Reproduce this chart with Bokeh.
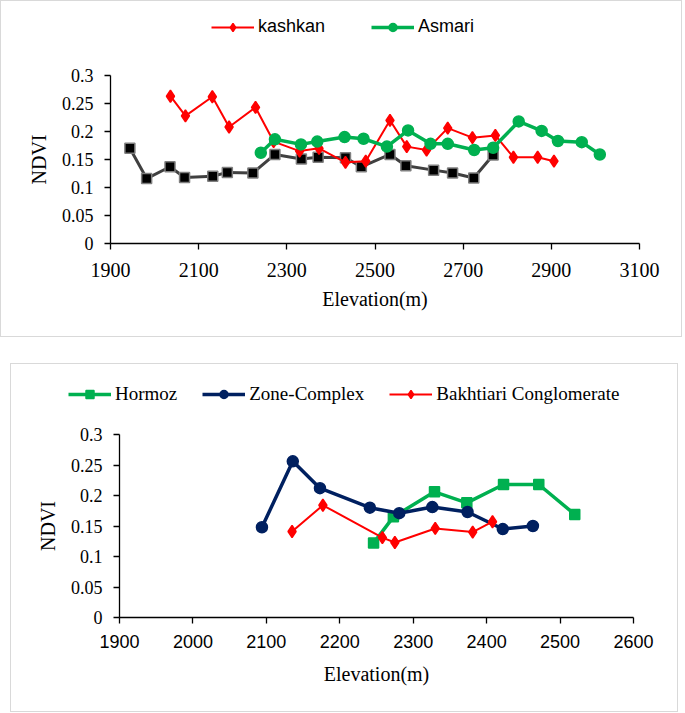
from bokeh.plotting import figure
from bokeh.models import Legend, LegendItem, FixedTicker, Range1d, Spacer
from bokeh.layouts import column, row
from bokeh.embed import file_html
from bokeh.resources import INLINE

# ---------------- Top panel data ----------------
kashkan_elev = [2036, 2070, 2131, 2169, 2229, 2270, 2329, 2373, 2433, 2479,
                2534, 2572, 2617, 2665, 2721, 2773, 2814, 2869, 2906]
kashkan_ndvi = [0.263, 0.228, 0.262, 0.208, 0.243, 0.182, 0.165, 0.170, 0.145, 0.147,
                0.220, 0.173, 0.167, 0.206, 0.189, 0.193, 0.154, 0.154, 0.147]
asmari_elev = [2241, 2273, 2332, 2369, 2431, 2474, 2527, 2575, 2626, 2665,
               2725, 2768, 2826, 2878, 2915, 2969, 3010]
asmari_ndvi = [0.162, 0.186, 0.177, 0.182, 0.190, 0.187, 0.173, 0.202, 0.178, 0.178,
               0.167, 0.171, 0.218, 0.201, 0.183, 0.181, 0.159]
black_elev = [1944, 1982, 2035, 2068, 2132, 2165, 2223, 2273, 2333, 2371,
              2433, 2469, 2534, 2570, 2633, 2676, 2724, 2768]
black_ndvi = [0.170, 0.116, 0.137, 0.118, 0.120, 0.127, 0.126, 0.159, 0.151, 0.154,
              0.153, 0.137, 0.159, 0.139, 0.131, 0.126, 0.117, 0.158]

top_x_ticks = [1900, 2100, 2300, 2500, 2700, 2900, 3100]
top_x_labels = ["1900", "2100", "2300", "2500", "2700", "2900", "3100"]

# ---------------- Bottom panel data ----------------
hormoz_elev = [2246, 2273, 2329, 2373, 2423, 2471, 2520]
hormoz_ndvi = [0.122, 0.165, 0.206, 0.188, 0.218, 0.218, 0.169]
zone_elev = [2094, 2136, 2173, 2241, 2281, 2326, 2374, 2422, 2463]
zone_ndvi = [0.148, 0.256, 0.212, 0.180, 0.171, 0.181, 0.173, 0.145, 0.150]
bakh_elev = [2135, 2177, 2258, 2275, 2330, 2381, 2408]
bakh_ndvi = [0.141, 0.184, 0.131, 0.123, 0.146, 0.140, 0.157]

bot_x_ticks = [1900, 2000, 2100, 2200, 2300, 2400, 2500, 2600]
bot_x_labels = ["1900", "2000", "2100", "2200", "2300", "2400", "2500", "2600"]

y_ticks = [0, 0.05, 0.1, 0.15, 0.2, 0.25, 0.3]
y_labels = ["0", "0.05", "0.1", "0.15", "0.2", "0.25", "0.3"]

SERIF = "Liberation Serif"
SANS = "Liberation Sans"
RED = "#FF0000"
GREEN = "#00B050"
NAVY = "#002060"
BORDER = {"border": "1px solid #d9d9d9"}
NAN = float("nan")

STYLES = {
    "black": dict(color="#404040", lw=3, marker="square", size=10, fill="black", edge="#7f7f7f"),
    "kashkan": dict(color=RED, lw=2, marker="diamond", size=12, fill=RED, edge=RED),
    "asmari": dict(color=GREEN, lw=3.5, marker="circle", size=11, fill=GREEN, edge=GREEN),
    "hormoz": dict(color=GREEN, lw=3.5, marker="square", size=10, fill=GREEN, edge=GREEN),
    "zone": dict(color=NAVY, lw=3.5, marker="circle", size=11, fill=NAVY, edge=NAVY),
    "bakh": dict(color=RED, lw=2, marker="diamond", size=12, fill=RED, edge=RED),
}


def make_fig(xr, width, fw, fh, bl, bt, bb, xticks, xlabels, xfont, xsize, xstand, tstand):
    p = figure(frame_width=fw, frame_height=fh,
               min_border_left=bl, min_border_right=width - bl - fw,
               min_border_top=bt, min_border_bottom=bb,
               x_range=Range1d(*xr), y_range=Range1d(0, 0.3),
               output_backend="svg", toolbar_location=None)
    p.grid.visible = False
    p.outline_line_color = None
    p.background_fill_color = "white"
    p.border_fill_color = "white"
    for ax in (p.xaxis[0], p.yaxis[0]):
        ax.axis_line_color = "black"
        ax.axis_line_width = 1.3
        ax.major_tick_line_color = "black"
        ax.major_tick_line_width = 1.3
        ax.major_tick_out = 6
        ax.major_tick_in = 0
        ax.minor_tick_line_color = None
        ax.axis_label_text_font = SERIF
        ax.axis_label_text_font_size = "20px"
        ax.axis_label_text_font_style = "normal"
        ax.axis_label_text_color = "black"
        ax.major_label_text_color = "black"
    xa = p.xaxis[0]
    xa.ticker = FixedTicker(ticks=xticks)
    xa.major_label_overrides = dict(zip(xticks, xlabels))
    xa.major_label_text_font = xfont
    xa.major_label_text_font_size = xsize
    xa.major_label_standoff = xstand
    xa.axis_label = "Elevation(m)"
    xa.axis_label_standoff = tstand
    ya = p.yaxis[0]
    ya.ticker = FixedTicker(ticks=y_ticks)
    ya.major_label_overrides = dict(zip(y_ticks, y_labels))
    ya.major_label_text_font = SERIF
    ya.major_label_text_font_size = "18px"
    ya.major_label_standoff = 11
    ya.axis_label = "NDVI"
    ya.axis_label_standoff = 9
    return p


def series(p, x, y, st):
    r1 = p.line(x, y, line_color=st["color"], line_width=st["lw"])
    r2 = p.scatter(x, y, marker=st["marker"], size=st["size"],
                   fill_color=st["fill"], line_color=st["edge"], line_width=1.5)
    return [r1, r2]


def legend_fig(width, height, entries, loc, font, size, spacing):
    lf = figure(width=width, height=height,
                min_border_left=0, min_border_right=0,
                min_border_top=0, min_border_bottom=0,
                x_range=Range1d(0, 1), y_range=Range1d(0, 1),
                x_axis_location=None, y_axis_location=None,
                output_backend="svg", toolbar_location=None)
    lf.grid.visible = False
    lf.outline_line_color = None
    items = []
    for label, key in entries:
        # legend sample only: a NaN point draws nothing in the plot area
        rs = series(lf, [NAN], [NAN], STYLES[key])
        items.append(LegendItem(label=label, renderers=rs))
    leg = Legend(items=items, location=loc)
    leg.orientation = "horizontal"
    leg.glyph_width = 43
    leg.glyph_height = 20
    leg.label_height = 20
    leg.label_width = 10
    leg.label_standoff = 4
    leg.spacing = spacing
    leg.padding = 0
    leg.margin = 0
    leg.border_line_color = None
    leg.background_fill_alpha = 0
    leg.label_text_font = font
    leg.label_text_font_size = size
    leg.label_text_color = "black"
    lf.add_layout(leg)
    return lf


# ---------------- Top block ----------------
W1 = 680
leg1 = legend_fig(W1, 50, [("kashkan", "kashkan"), ("Asmari", "asmari")],
                  (210, 14), SANS, "18px", 46)
p1 = make_fig((1900, 3100), W1, 529, 168, 109, 24, 93,
              top_x_ticks, top_x_labels, SERIF, "20px", 13, 8)
series(p1, black_elev, black_ndvi, STYLES["black"])
series(p1, kashkan_elev, kashkan_ndvi, STYLES["kashkan"])
series(p1, asmari_elev, asmari_ndvi, STYLES["asmari"])
top_block = column(row(leg1), p1, spacing=0, styles=BORDER)

# ---------------- Bottom block ----------------
W2 = 666
leg2 = legend_fig(W2, 50, [("Hormoz", "hormoz"), ("Zone-Complex", "zone"),
                           ("Bakhtiari Conglomerate", "bakh")],
                  (57, 9), SERIF, "19px", 25)
p2 = make_fig((1900, 2600), W2, 514, 183, 108, 20, 94,
              bot_x_ticks, bot_x_labels, SANS, "18px", 11, 12)
series(p2, hormoz_elev, hormoz_ndvi, STYLES["hormoz"])
series(p2, zone_elev, zone_ndvi, STYLES["zone"])
series(p2, bakh_elev, bakh_ndvi, STYLES["bakh"])
bottom_block = column(row(leg2), p2, spacing=0, styles=BORDER)

layout = column(top_block, row(Spacer(width=10, height=10), bottom_block), spacing=26)
open("out.html", "w").write(file_html(layout, INLINE))
